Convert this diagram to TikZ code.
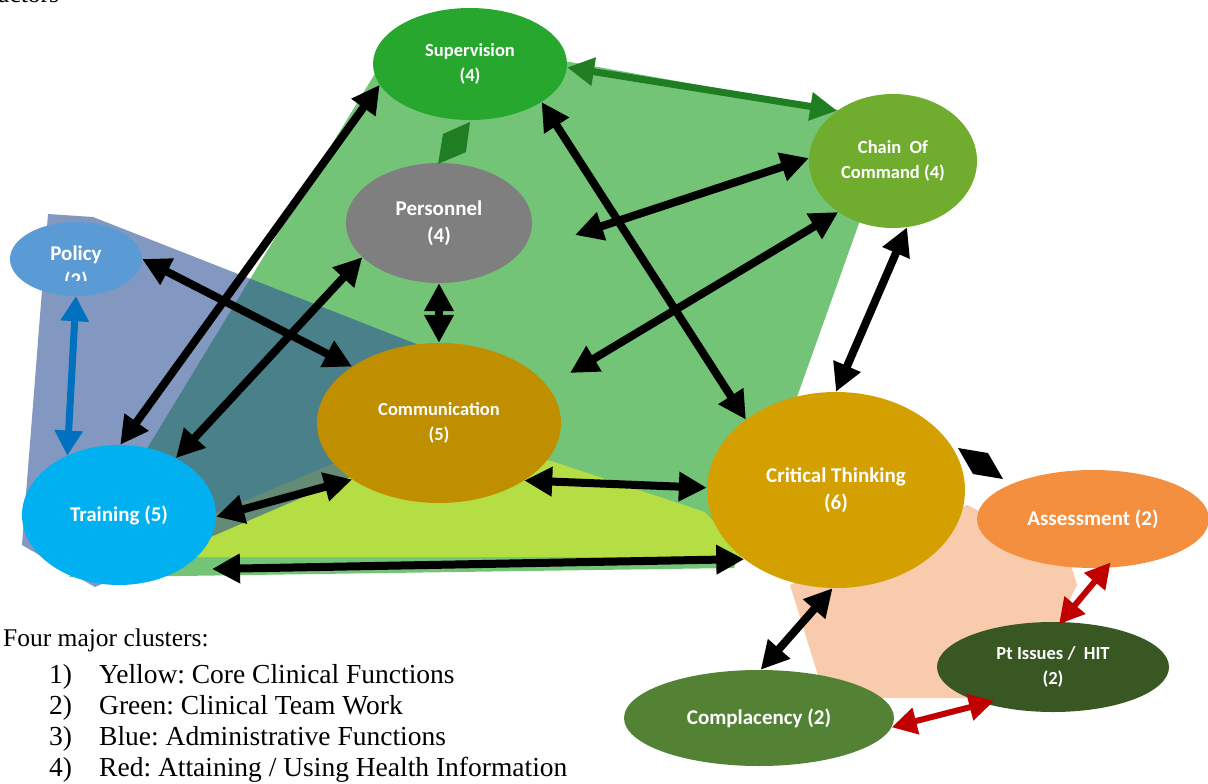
\documentclass[tikz,border=0pt]{standalone}
\usepackage{fontspec}
\setmainfont{Liberation Serif}
\newfontfamily\carl{Carlito}
\usetikzlibrary{arrows.meta,shapes.geometric,calc}
\frenchspacing
\definecolor{cSup}{RGB}{40,167,47}
\definecolor{cChain}{RGB}{112,173,46}
\definecolor{cPers}{RGB}{127,127,127}
\definecolor{cPolicy}{RGB}{91,155,213}
\definecolor{cComm}{RGB}{191,143,0}
\definecolor{cTrain}{RGB}{0,176,240}
\definecolor{cCrit}{RGB}{212,160,0}
\definecolor{cAssess}{RGB}{245,143,64}
\definecolor{cPt}{RGB}{56,87,35}
\definecolor{cCompl}{RGB}{84,130,53}
\definecolor{cGreenArrow}{RGB}{31,126,33}
\definecolor{cBlueArrow}{RGB}{0,112,192}
\definecolor{cRed}{RGB}{192,0,0}
\definecolor{cGreenPoly}{RGB}{116,196,120}
\definecolor{cYGPoly}{RGB}{181,222,69}
\definecolor{cPeach}{RGB}{248,203,173}
\definecolor{cBluePoly}{RGB}{47,84,150}
\begin{document}
\begin{tikzpicture}[x=1pt,y=-1pt,
  bub/.style={ellipse, inner sep=0pt, align=center, text=white,
    font=\carl\bfseries\fontsize{21}{27}\selectfont},
  bubs/.style={bub, font=\carl\bfseries\fontsize{18.5}{25}\selectfont},
  blk/.style={line width=8pt, black,
    {Triangle[length=28pt,width=28pt]}-{Triangle[length=28pt,width=28pt]}},
  grnarr/.style={line width=7pt, cGreenArrow,
    {Triangle[length=27pt,width=27pt]}-{Triangle[length=27pt,width=27pt]}},
  bluarr/.style={line width=7pt, cBlueArrow,
    {Triangle[length=25pt,width=27pt]}-{Triangle[length=25pt,width=27pt]}},
  redarr/.style={line width=6pt, cRed,
    {Triangle[length=25pt,width=26pt]}-{Triangle[length=25pt,width=26pt]}},
  legtitle/.style={anchor=base west, inner sep=0pt, font=\fontsize{25.5}{30}\selectfont},
  legend/.style={anchor=base west, inner sep=0pt, font=\fontsize{27.5}{32}\selectfont}
]
\useasboundingbox (0,0) rectangle (1208,784);
\clip (0,0) rectangle (1208,784);

% cut-off heading text at the very top
\node[legtitle] (heading) at (-2,3) {actors};

% cluster backgrounds
\fill[cGreenPoly] (382,62) -- (570,62) -- (850,112) -- (868,198) -- (797,397)
  -- (734,568) -- (180,576) -- (69,577) -- cycle;
\fill[cYGPoly] (140,557) -- (140,545) -- (330,465) -- (450,435) -- (548,460)
  -- (705,512) -- (745,557) -- cycle;
\fill[cBluePoly, opacity=0.6] (48,214) -- (93,217) -- (480,369) -- (470,425)
  -- (95,587) -- (22,545) -- cycle;
\fill[cPeach] (790,585) -- (967,505) -- (1068,555) -- (1077,585) -- (1055,630)
  -- (985,698) -- (825,698) -- cycle;

% nodes
\node[bubs, fill=cSup, minimum width=194pt, minimum height=112pt] (sup) at (470,64) {Supervision\\(4)};
\node[bubs, fill=cChain, minimum width=168pt, minimum height=134pt] (chain) at (893,161) {Chain~~Of\\Command (4)};
\node[bub, fill=cPers, minimum width=186pt, minimum height=120pt] (pers) at (439,223) {Personnel\\(4)};
\node[bub, fill=cPolicy, minimum width=132pt, minimum height=74pt] (policy) at (76,259) {};
\begin{scope}
  \clip (0,200) rectangle (200,280);
  \node[bub] (policytext) at (76,268) {Policy\\(2)};
\end{scope}
\node[bubs, fill=cComm, minimum width=244pt, minimum height=160pt] (comm) at (439,423) {Communication\\(5)};
\node[bub, fill=cTrain, minimum width=194pt, minimum height=140pt] (train) at (119,515) {Training (5)};
\node[bub, fill=cCrit, minimum width=258pt, minimum height=196pt] (crit) at (836,490) {Critical Thinking\\(6)};
\node[bub, fill=cAssess, minimum width=232pt, minimum height=98pt] (assess) at (1093,519) {Assessment (2)};
\node[bubs, fill=cPt, minimum width=232pt, minimum height=90pt] (pt) at (1053,667) {Pt Issues /~~HIT\\(2)};
\node[bub, fill=cCompl, minimum width=270pt, minimum height=96pt] (compl) at (759,718) {Complacency (2)};

% free ends
\coordinate (pfree) at (575,235);
\coordinate (cfree) at (570,373);
\coordinate (tfree) at (212,569);

% connectors
\draw[blk] (train.89) -- (sup.193);
\draw[blk] (train.45) -- (pers.204);
\draw[blk] (policy.east) -- (comm.147);
\draw[blk] (pers.south) -- (comm.north);
\draw[blk] (sup.-28) -- (crit.142);
\draw[blk] (pfree) -- (chain.178);
\draw[blk] (cfree) -- (chain.223);
\draw[blk] (chain.282) -- (crit.north);
\draw[blk] (comm.-34) -- (crit.179);
\draw[blk] (tfree) -- (crit.217);
\draw[blk] (crit.-92) -- (compl.88);
\draw[blk] (train.-1) -- (comm.213);
\draw[grnarr] (sup.-2) -- (chain.138);
\draw[bluarr] (policy.south) -- (train.131);
\draw[redarr, shorten <=-7pt, shorten >=-3pt] (assess.-75) -- (pt.80);
\draw[redarr, shorten >=-10pt] (compl.-4) -- (pt.208);

% diamond marks
\fill[cGreenArrow] (470,122) -- (443,134) -- (438,164) -- (466,152) -- cycle;
\fill[black] (958,448) -- (988,453) -- (1003,479) -- (973,474) -- cycle;

% legend
\node[legtitle] (lgtitle) at (3,646) {Four major clusters:};
\node[legend] (n1) at (49,683) {1)};
\node[legend] (t1) at (99,683) {Yellow: Core Clinical Functions};
\node[legend] (n2) at (49,714) {2)};
\node[legend] (t2) at (99,714) {Green: Clinical Team Work};
\node[legend] (n3) at (49,745) {3)};
\node[legend] (t3) at (99,745) {Blue: Administrative Functions};
\node[legend] (n4) at (49,776) {4)};
\node[legend] (t4) at (99,776) {Red: Attaining / Using Health Information};
\end{tikzpicture}
\end{document}
